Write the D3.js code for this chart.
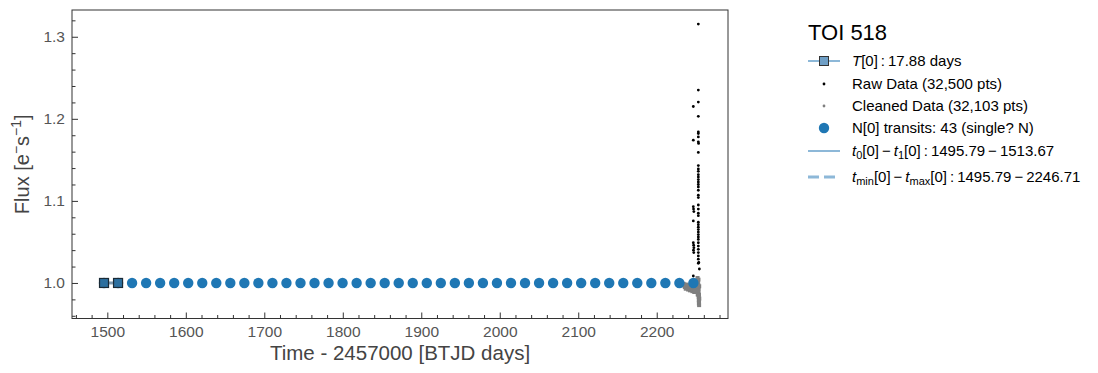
<!DOCTYPE html>
<html><head><meta charset="utf-8">
<script src="https://cdn.jsdelivr.net/npm/d3@7"></script>
<style>
body{margin:0;background:#fff;}
svg{display:block;}
text{font-family:"Liberation Sans",Arial,sans-serif;}
</style></head>
<body><svg id="c" width="1098" height="373"></svg>
<script>
// ---- data ----
const transitTimes = [1495.79,1513.67,1531.55,1549.43,1567.31,1585.19,1603.07,1620.95,1638.83,1656.71,1674.59,1692.47,1710.35,1728.23,1746.11,1763.99,1781.87,1799.75,1817.63,1835.51,1853.39,1871.27,1889.15,1907.03,1924.91,1942.79,1960.67,1978.55,1996.43,2014.31,2032.19,2050.07,2067.95,2085.83,2103.71,2121.59,2139.47,2157.35,2175.23,2193.11,2210.99,2228.87,2246.71];
const transitFlux = 1.0;
const periodTimes = [1495.79, 1513.67];
const rawTime = [2253.0,2253.0,2253.0,2246.6,2253.0,2253.0,2253.0,2253.0,2246.6,2253.0,2253.3,2253.0,
  2253.0,2253.0,2253.0,2253.0,2253.0,2253.0,2253.0,2253.0,2253.0,2253.0,
  2253.0,2253.0,2253.0,2253.0,2253.0,2253.0,2246.6,2246.9,2247.3,2246.6,
  2253.0,2253.0,2253.0,2253.0,2253.0,2253.0,2253.0,2253.0,2253.0,2253.0,2253.0,2253.0,2253.0,2253.0,2253.0,
  2246.6,2247.0,2247.3,2246.8,2247.2,2254.3,2246.6,2253.6];
const rawFlux = [1.3155,1.235,1.2204,1.215,1.203,1.184,1.182,1.178,1.174,1.172,1.170,1.159,
  1.143,1.139,1.136,1.132,1.129,1.126,1.123,1.120,1.117,1.113,
  1.107,1.104,1.095,1.090,1.085,1.082,1.093,1.090,1.087,1.0756,
  1.074,1.071,1.068,1.065,1.062,1.059,1.056,1.053,1.049,1.045,1.041,1.037,1.033,1.029,1.024,
  1.049,1.046,1.043,1.040,1.037,1.017,1.0085,1.025];
const cleanTime = [2234.0,2234.6,2235.2,2235.8,2236.4,2237.0,2237.6,2238.2,2238.8,2239.4,2240.0,2240.6,2241.2,2241.8,2242.4,2243.0,2243.6,2244.2,2244.8,2245.4,2246.0,2246.6,2247.2,2247.8,2248.4,2249.0,2249.6,2250.2,2250.8,2251.4,2252.0,2252.2,2252.5,2252.8,2253.0,2253.0,2253.2,2253.4,2253.5,2253.6,2253.7,2253.8,2254.0,2254.1,2254.2,2252.6,2253.3,2253.9];
const cleanFlux = [0.999,0.997,0.998,0.995,0.997,0.993,0.996,0.998,0.994,0.996,0.992,0.995,0.997,0.993,0.991,0.994,0.996,0.992,0.995,0.990,0.993,0.996,0.992,0.989,0.994,0.990,0.993,0.997,1.003,0.998,1.006,0.986,1.002,0.995,0.988,0.998,1.004,0.992,0.983,0.979,0.975,0.986,0.973,0.996,0.981,0.991,0.985,0.978];
const xMajorTicks = [1500,1600,1700,1800,1900,2000,2100,2200];
const yMajorTicks = [1.0,1.1,1.2,1.3];
const legendTitle = "TOI 518";

// ---- layout ----
const L=72,R=728,T=10,B=318.5;
const svg=d3.select("#c");
const x=d3.scaleLinear().domain([1455,2290.8]).range([L,R]);
const y=d3.scaleLinear().domain([0.9567,1.3326]).range([B,T]);
const blue="#1f77b4";
const axisCol="#333";

const xMinor=d3.range(1460,2290,20).filter(v=>v%100!==0);
const yMinor=d3.range(0.96,1.33,0.02).map(v=>+v.toFixed(2)).filter(v=>Math.abs(v*10-Math.round(v*10))>1e-6);

function styleAxis(g){
  g.select(".domain").remove();
  g.selectAll(".tick line").attr("stroke",axisCol);
  g.selectAll(".tick text").attr("fill","#555").style("font-size","15.5px").style("font-family","'Liberation Sans',Arial,sans-serif");
}
svg.append("g").attr("transform",`translate(0,${B})`).call(d3.axisBottom(x).tickValues(xMinor).tickSize(-3.5).tickFormat("")).call(styleAxis);
svg.append("g").attr("transform",`translate(0,${B})`).call(d3.axisBottom(x).tickValues(xMajorTicks).tickSize(-6).tickPadding(7).tickFormat(d3.format("d"))).call(styleAxis);
svg.append("g").attr("transform",`translate(${L},0)`).call(d3.axisLeft(y).tickValues(yMinor).tickSize(-3.5).tickFormat("")).call(styleAxis);
svg.append("g").attr("transform",`translate(${L},0)`).call(d3.axisLeft(y).tickValues(yMajorTicks).tickSize(-6).tickPadding(7).tickFormat(d3.format(".1f"))).call(styleAxis);

// frame
svg.append("rect").attr("x",L).attr("y",T).attr("width",R-L).attr("height",B-T).attr("fill","none").attr("stroke",axisCol).attr("stroke-width",1);

const plot=svg.append("g");
// raw data
plot.selectAll(".raw").data(rawTime.map((t,i)=>[t,rawFlux[i]])).join("circle")
  .attr("cx",d=>x(d[0])).attr("cy",d=>y(d[1])).attr("r",1.4).attr("fill","#000");
// cleaned data
plot.selectAll(".cl").data(cleanTime.map((t,i)=>[t,cleanFlux[i]])).join("rect")
  .attr("x",d=>x(d[0])-2).attr("y",d=>y(d[1])-2).attr("width",4).attr("height",4).attr("fill","#7f7f7f");
// transits
plot.selectAll(".tr").data(transitTimes).join("circle")
  .attr("cx",d=>x(d)).attr("cy",y(transitFlux)).attr("r",5.2).attr("fill",blue);
// period line + squares
plot.append("line").attr("x1",x(periodTimes[0])).attr("x2",x(periodTimes[1])).attr("y1",y(transitFlux)).attr("y2",y(transitFlux))
  .attr("stroke","#7d99b0").attr("stroke-width",3);
plot.selectAll(".sq").data(periodTimes).join("rect")
  .attr("x",d=>x(d)-4.5).attr("y",y(transitFlux)-4.5).attr("width",9).attr("height",9)
  .attr("fill","#2c6f9f").attr("stroke","#1a2a36").attr("stroke-width",1.2);

// axis labels
svg.append("text").attr("x",(L+R)/2).attr("y",360).attr("text-anchor","middle").attr("fill","#444").style("font-size","20.5px").text("Time - 2457000 [BTJD days]");
const yl=svg.append("text").attr("transform",`translate(29,${(T+B)/2}) rotate(-90)`).attr("text-anchor","middle").attr("fill","#444").style("font-size","20px");
yl.append("tspan").text("Flux [e");
yl.append("tspan").attr("baseline-shift","super").style("font-size","14px").text("−");
yl.append("tspan").text("s");
yl.append("tspan").attr("baseline-shift","super").style("font-size","14px").text("−1");
yl.append("tspan").text("]");

// legend
const lg=svg.append("g");
const lx0=808,lx1=840,tx=852,fs="15px";
lg.append("text").attr("x",808).attr("y",40).style("font-size","22px").attr("fill","#000").text(legendTitle);
const rows=[61,84,106,128,151,177];
// row 1
lg.append("line").attr("x1",lx0).attr("x2",lx1).attr("y1",rows[0]).attr("y2",rows[0]).attr("stroke","#8db8d8").attr("stroke-width",2);
lg.append("rect").attr("x",824-4.5).attr("y",rows[0]-4.5).attr("width",9).attr("height",9).attr("fill","#6f9fc6").attr("stroke","#333").attr("stroke-width",1);
function mt(row){return lg.append("text").attr("x",tx).attr("y",row+5).style("font-size",fs).attr("fill","#000");}
const sub=(t,s)=>t.append("tspan").attr("dy",3).style("font-size","11px").text(s);
let t1=mt(rows[0]);
t1.append("tspan").style("font-style","italic").text("T");
t1.append("tspan").text("[0]\u2009:\u200917.88 days");
// row 2
lg.append("circle").attr("cx",824).attr("cy",rows[1]).attr("r",1.4).attr("fill","#000");
mt(rows[1]).text("Raw Data (32,500 pts)");
// row 3
lg.append("circle").attr("cx",824).attr("cy",rows[2]).attr("r",1.4).attr("fill","#7f7f7f");
mt(rows[2]).text("Cleaned Data (32,103 pts)");
// row 4
lg.append("circle").attr("cx",824).attr("cy",rows[3]).attr("r",5.2).attr("fill",blue);
mt(rows[3]).text("N[0] transits: 43 (single? N)");
// row 5
lg.append("line").attr("x1",lx0).attr("x2",lx1).attr("y1",rows[4]).attr("y2",rows[4]).attr("stroke","#8db8d8").attr("stroke-width",2);
let t5=mt(rows[4]);
t5.append("tspan").style("font-style","italic").text("t");
sub(t5,"0");
t5.append("tspan").attr("dy",-3).text("[0]\u2009−\u2009");
t5.append("tspan").style("font-style","italic").text("t");
sub(t5,"1");
t5.append("tspan").attr("dy",-3).text("[0]\u2009:\u20091495.79\u2009−\u20091513.67");
// row 6
lg.append("line").attr("x1",lx0).attr("x2",lx1).attr("y1",rows[5]).attr("y2",rows[5]).attr("stroke","#8db8d8").attr("stroke-width",3).attr("stroke-dasharray","11,5");
let t6=mt(rows[5]);
t6.append("tspan").style("font-style","italic").text("t");
sub(t6,"min");
t6.append("tspan").attr("dy",-3).text("[0]\u2009−\u2009");
t6.append("tspan").style("font-style","italic").text("t");
sub(t6,"max");
t6.append("tspan").attr("dy",-3).text("[0]\u2009:\u20091495.79\u2009−\u20092246.71");
</script></body></html>
